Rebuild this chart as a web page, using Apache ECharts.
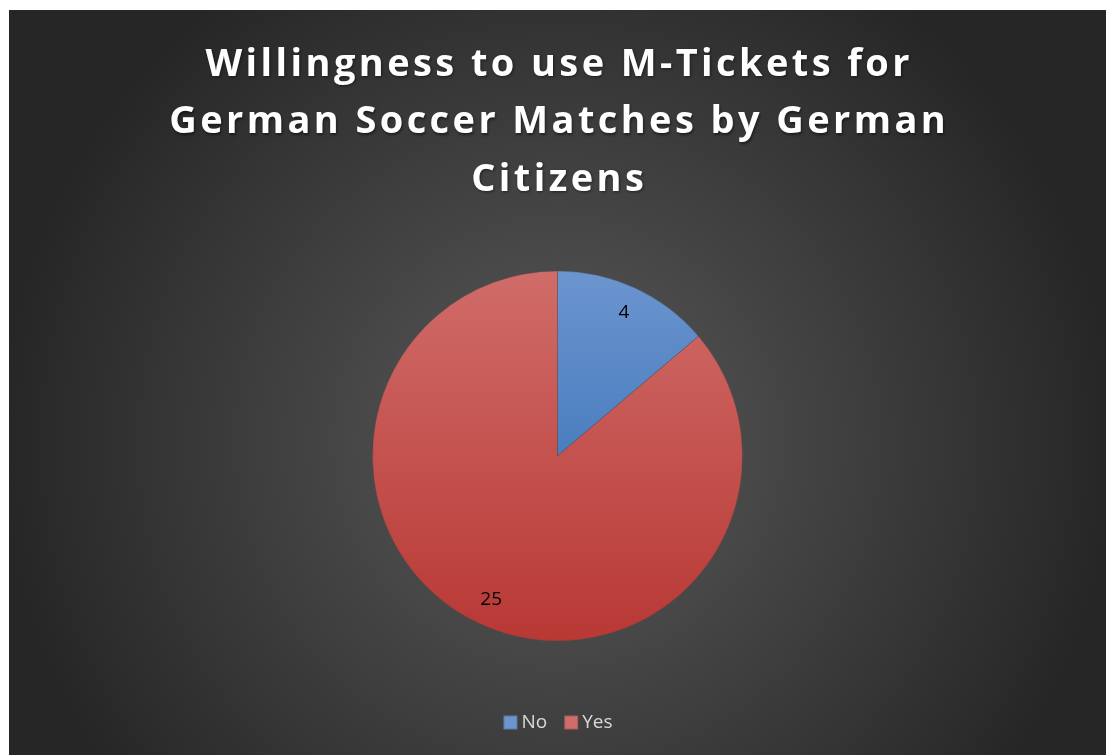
<!DOCTYPE html>
<html>
<head>
<meta charset="utf-8">
<style>
  html, body { margin: 0; padding: 0; background: #ffffff; }
  #chart { position: absolute; left: 9px; top: 10px; width: 1097px; height: 745px; }
</style>
<script src="https://cdn.jsdelivr.net/npm/echarts@6/dist/echarts.min.js"></script>
</head>
<body>
<div id="chart"></div>
<script>
// Survey answers and counts
const categories = ['No', 'Yes'];
const counts = [4, 25];
const titleLines = [
  'Willingness to use M-Tickets for',
  'German Soccer Matches by German',
  'Citizens'
];

// Slice fills: lighter at the top, deeper toward the bottom
const sliceFills = [
  ['#6b95cf', '#4a7dbe'],
  ['#d06c69', '#b83834']
];

function vGrad(top, bottom) {
  return new echarts.graphic.LinearGradient(0, 0, 0, 1, [
    { offset: 0, color: top },
    { offset: 1, color: bottom }
  ]);
}

const pieData = categories.map((name, i) => ({
  name: name,
  value: counts[i],
  itemStyle: { color: vGrad(sliceFills[i][0], sliceFills[i][1]) }
}));

// Wrap each character in its own rich token so the title gets tracked-out letters
function tracked(line) {
  return Array.from(line).map(ch => '{t|' + ch + '}').join('');
}

const titleRich = {
  t: {
    color: '#ffffff',
    fontFamily: 'Open Sans',
    fontWeight: 'bold',
    fontSize: 38,
    padding: [0, 1.7, 0, 1.7],
    textShadowColor: 'rgba(0,0,0,0.5)',
    textShadowBlur: 3,
    textShadowOffsetX: 1,
    textShadowOffsetY: 1.5
  }
};

const chart = echarts.init(document.getElementById('chart'), null, { renderer: 'canvas' });

chart.setOption({
  backgroundColor: new echarts.graphic.RadialGradient(0.5, 0.58, 0.75, [
    { offset: 0, color: '#5a5a5a' },
    { offset: 1, color: '#262626' }
  ]),
  // one centred title block per line
  title: titleLines.map((line, i) => ({
    text: tracked(line),
    left: 'center',
    top: 36 + i * 57.5,
    padding: 0,
    textStyle: { rich: titleRich }
  })),
  legend: {
    bottom: 18,
    left: 'center',
    itemWidth: 14,
    itemHeight: 14,
    itemGap: 16,
    icon: 'rect',
    data: categories.map((name, i) => ({ name: name, itemStyle: { color: sliceFills[i][0] } })),
    textStyle: { color: '#d9d9d9', fontFamily: 'Open Sans', fontSize: 19, padding: [0, 0, 0, -1] }
  },
  series: [
    {
      type: 'pie',
      center: ['50%', 446],
      radius: 185,
      startAngle: 90,
      clockwise: true,
      silent: true,
      label: { show: false },
      labelLine: { show: false },
      itemStyle: { borderColor: 'rgba(70,70,70,0.35)', borderWidth: 0.5 },
      data: pieData
    },
    {
      // value labels placed toward the rim
      type: 'pie',
      center: ['50%', 446],
      radius: [125, 185],
      startAngle: 90,
      clockwise: true,
      silent: true,
      legendHoverLink: false,
      itemStyle: { color: 'rgba(0,0,0,0)' },
      label: {
        show: true,
        position: 'inside',
        formatter: '{c}',
        color: '#000000',
        fontFamily: 'Open Sans',
        fontSize: 19
      },
      labelLine: { show: false },
      data: categories.map((name, i) => ({ name: name + ' ', value: counts[i] }))
    }
  ]
});
</script>
</body>
</html>
